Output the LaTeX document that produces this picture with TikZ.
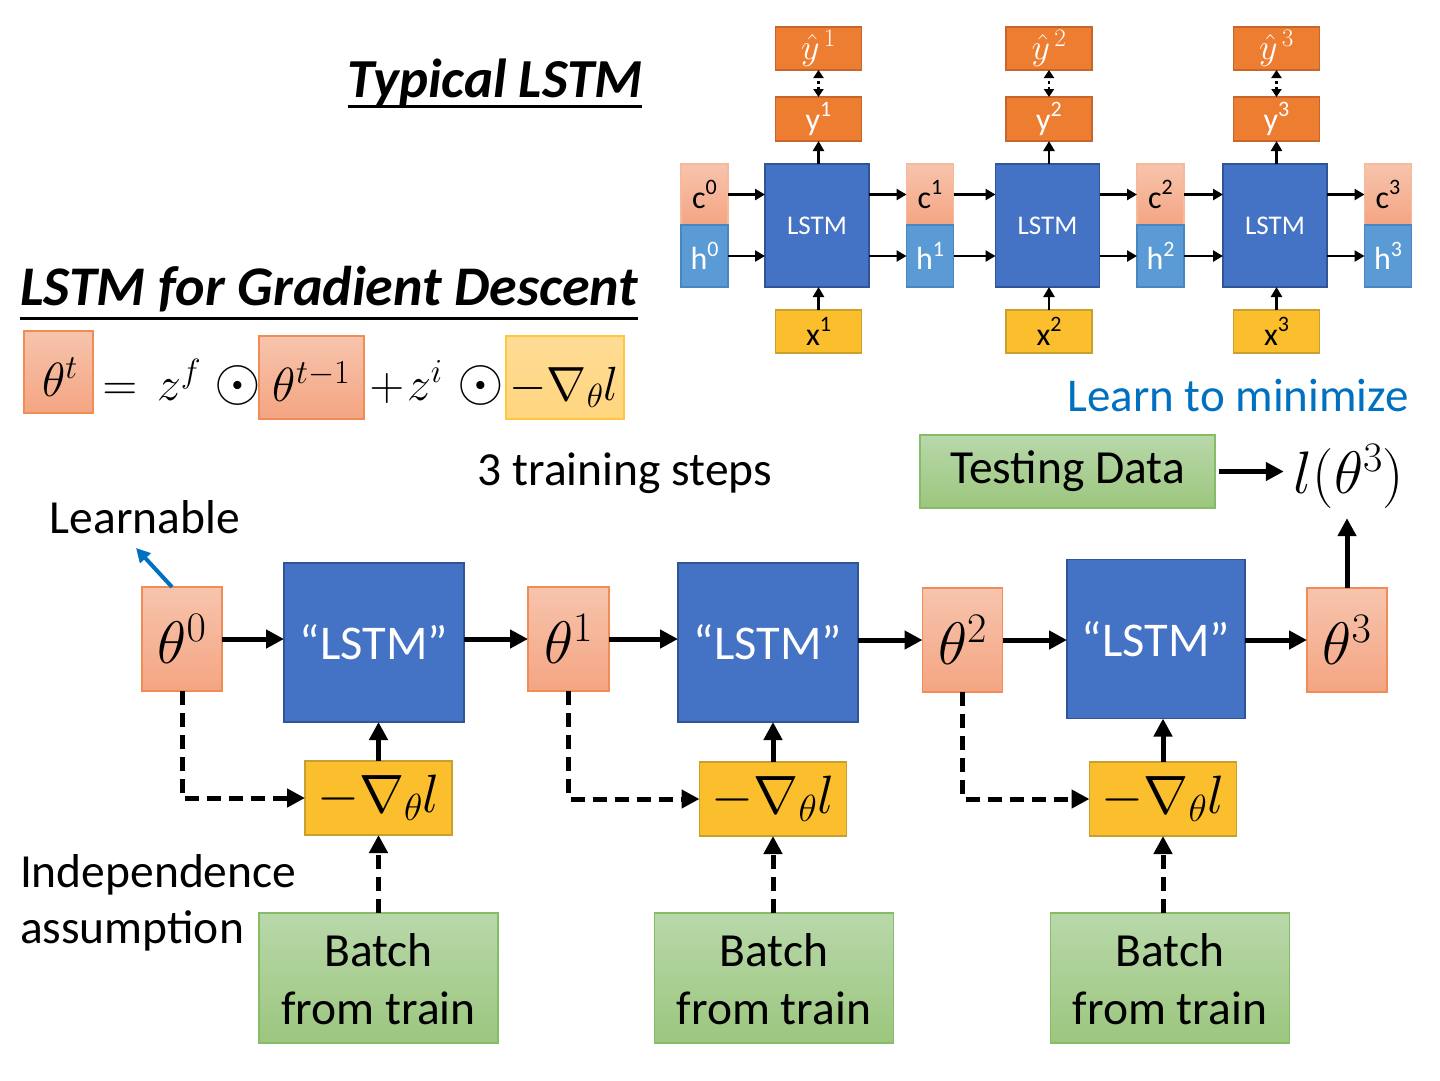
\RequirePackage{fix-cm}
\documentclass[tikz,border=0pt]{standalone}
\usepackage[no-math]{fontspec}
\setmainfont{Carlito}
\usetikzlibrary{arrows.meta}
\definecolor{salTop}{HTML}{F7C4AD}
\definecolor{salBot}{HTML}{F4A582}
\definecolor{salEdge}{HTML}{F08C55}
\definecolor{salEdgeL}{HTML}{F6B99A}
\definecolor{hBlue}{HTML}{5B9BD5}
\definecolor{hEdge}{HTML}{4A86BE}
\definecolor{lBlue}{HTML}{4472C4}
\definecolor{lEdge}{HTML}{2F5597}
\definecolor{oFill}{HTML}{ED7D31}
\definecolor{oEdge}{HTML}{C8652A}
\definecolor{gFill}{HTML}{FBBF2D}
\definecolor{gEdge}{HTML}{C9A030}
\definecolor{grTop}{HTML}{B8D8AA}
\definecolor{grBot}{HTML}{9CC67E}
\definecolor{grEdge}{HTML}{86BC68}
\definecolor{pyTop}{HTML}{FFDC96}
\definecolor{pyBot}{HTML}{FFD57E}
\definecolor{pyEdge}{HTML}{FFC640}
\definecolor{linkBlue}{HTML}{0070C0}
\newcommand\FMain{\fontsize{47.5}{56}\selectfont}
\newcommand\FQuote{\fontsize{48.5}{56}\selectfont}
\newcommand\FTitle{\fontsize{55}{66}\selectfont\bfseries\itshape}
\newcommand\FTitleB{\fontsize{56}{66}\selectfont\bfseries\itshape}
\newcommand\FTop{\fontsize{32}{38}\selectfont}
\newcommand\FTopM{\fontsize{36}{40}\selectfont}
\newcommand\FLstm{\fontsize{27}{32}\selectfont}
\newcommand\FMath{\fontsize{60}{70}\selectfont}
\newcommand\FGrad{\fontsize{54}{64}\selectfont}
\newcommand\FForm{\fontsize{48}{56}\selectfont}
\newcommand\FOdot{\fontsize{60}{68}\selectfont}
\newcommand\SupT[1]{\raisebox{0.42em}{\fontsize{22}{24}\selectfont #1}}
\begin{document}
\begin{tikzpicture}[x=1pt,y=-1pt,
  bx/.style={inner sep=0pt, outer sep=0pt, line width=1.2pt},
  salbox/.style={bx, top color=salTop, bottom color=salBot, draw=salEdge},
  salboxL/.style={bx, top color=salTop, bottom color=salBot, draw=salEdgeL},
  hbox/.style={bx, fill=hBlue, draw=hEdge, text=white},
  lbox/.style={bx, fill=lBlue, draw=lEdge, text=white},
  obox/.style={bx, fill=oFill, draw=oEdge, text=white},
  gbox/.style={bx, fill=gFill, draw=gEdge},
  grbox/.style={bx, top color=grTop, bottom color=grBot, draw=grEdge},
  pybox/.style={bx, top color=pyTop, bottom color=pyBot, draw=pyEdge},
  txt/.style={inner sep=0pt, outer sep=0pt},
  tarrow/.style={line width=2.8pt, -{Triangle[length=10pt,width=11pt]}},
  tdot/.style={line width=2.8pt, dash pattern=on 3pt off 3pt, {Triangle[length=8pt,width=10pt]}-{Triangle[length=8pt,width=10pt]}},
  barrow/.style={line width=5pt, -{Triangle[length=18pt,width=18pt]}},
  bdash/.style={line width=5pt, dash pattern=on 14pt off 8pt, -{Triangle[length=18pt,width=18pt]}},
  blarrow/.style={line width=4pt, draw=linkBlue, -{Triangle[length=14pt,width=14pt]}}
]
\useasboundingbox (0,0) rectangle (1440,1080);

% ---------- titles ----------
\node[txt, anchor=base] (ttl1) at (495,97) {\FTitle Typical LSTM};
\draw[line width=3pt] ([yshift=-9pt]ttl1.base west) -- ([yshift=-9pt]ttl1.base east);
\node[txt, anchor=base west] (ttl2) at (20,305) {\FTitleB LSTM for Gradient Descent};
\draw[line width=3pt] ([yshift=-13pt]ttl2.base west) -- ([yshift=-13pt]ttl2.base east);

% ---------- typical LSTM (top right) ----------
\foreach \i/\cx in {0/704.5,1/930,2/1160.5,3/1388}{
  \node[salboxL, minimum width=47pt, minimum height=61pt] (c\i) at (\cx,194.5) {\FTop c\SupT{\i}};
  \node[hbox, minimum width=47pt, minimum height=62pt] (h\i) at (\cx,256) {\FTop h\SupT{\i}};
}
\foreach \i/\cx/\ox in {1/817/818.5,2/1047.5/1049,3/1275/1276.5}{
  \node[lbox, minimum width=104pt, minimum height=123pt] (L\i) at (\cx,225.5) {\FLstm LSTM};
  \node[obox, minimum width=86pt, minimum height=43pt] (yh\i) at (\ox,48.5) {\FTopM$\hat{y}^{\,\i}$};
  \node[obox, minimum width=86pt, minimum height=44pt] (y\i) at (\ox,119) {\FTop y\SupT{\i}};
  \node[gbox, minimum width=86pt, minimum height=43pt] (x\i) at (\ox,331.5) {\FTop x\SupT{\i}};
  \draw[tarrow] (L\i.north -| y\i.south) -- (y\i.south);
  \draw[tdot] (y\i.north) -- (yh\i.south);
  \draw[tarrow] (x\i.north) -- (x\i.north |- L\i.south);
}
\foreach \a/\b in {0/1,1/2,2/3}{
  \draw[tarrow] (c\a.east) -- (c\a.east -| L\b.west);
  \draw[tarrow] (h\a.east) -- (h\a.east -| L\b.west);
  \draw[tarrow] (c\b.west -| L\b.east) -- (c\b.west);
  \draw[tarrow] (h\b.west -| L\b.east) -- (h\b.west);
}

% ---------- formula ----------
\node[salbox, minimum width=69pt, minimum height=82pt] (fb1) at (58.5,372) {};
\node[salbox, minimum width=105pt, minimum height=83pt] (fb2) at (311.5,377.5) {};
\node[pybox, minimum width=118pt, minimum height=83pt] (fb3) at (565,377.5) {};
\node[txt, anchor=base] (f1) at (60,396) {\FForm$\theta^{t}$};
\node[txt, anchor=base] (f2) at (120,400) {\FForm$=$};
\node[txt, anchor=base west] (f3) at (157,400) {\FForm$z^{f}$};
\node[txt, anchor=base] (f4) at (238,400) {\FOdot$\odot$};
\node[txt, anchor=base] (f5) at (311.5,401) {\FForm$\theta^{t-1}$};
\node[txt, anchor=base] (f6) at (387,400) {\FForm$+$};
\node[txt, anchor=base west] (f7) at (407,400) {\FForm$z^{i}$};
\node[txt, anchor=base] (f8) at (481,400) {\FOdot$\odot$};
\node[txt, anchor=base] (f9) at (564,400) {\FForm$-\nabla_{\theta} l$};

% ---------- texts ----------
\node[txt, anchor=base, text=linkBlue] (lmin) at (1238,411) {\fontsize{47}{56}\selectfont Learn to minimize};
\node[txt, anchor=base] (steps) at (625,485) {\FMain 3 training steps};
\node[txt, anchor=base] (learn) at (145,533) {\FMain Learnable};
\node[txt, anchor=base west] (ind1) at (20,887) {\FMain Independence};
\node[txt, anchor=base west] (ind2) at (20,943) {\FMain assumption};

% ---------- bottom chain ----------
\node[salbox, minimum width=80pt, minimum height=104pt] (th0) at (182,639) {\FMath$\theta^{0}$};
\node[salbox, minimum width=81pt, minimum height=104pt] (th1) at (568.5,639) {\FMath$\theta^{1}$};
\node[salbox, minimum width=80pt, minimum height=104pt] (th2) at (962.5,640) {\FMath$\theta^{2}$};
\node[salbox, minimum width=80pt, minimum height=104pt] (th3) at (1347,640) {\FMath$\theta^{3}$};

\node[lbox, minimum width=180pt, minimum height=159pt] (B1) at (374,642.5) {\FQuote “LSTM”};
\node[lbox, minimum width=180pt, minimum height=159pt] (B2) at (768,642.5) {\FQuote “LSTM”};
\node[lbox, minimum width=178pt, minimum height=159pt] (B3) at (1156,639) {\FQuote “LSTM”};

\node[gbox, minimum width=147pt, minimum height=74pt] (g1) at (378.5,798) {\FGrad$-\nabla_{\theta} l$};
\node[gbox, minimum width=147pt, minimum height=74pt] (g2) at (773,799) {\FGrad$-\nabla_{\theta} l$};
\node[gbox, minimum width=147pt, minimum height=74pt] (g3) at (1163,799) {\FGrad$-\nabla_{\theta} l$};

\foreach \i/\cx in {1/378.5,2/774,3/1170}{
  \node[grbox, minimum width=239pt, minimum height=130pt] (b\i) at (\cx,978) {};
  \node[txt, anchor=base] (bt\i) at ([yshift=12pt]b\i.center) {\FMain Batch};
  \node[txt, anchor=base] (bf\i) at ([yshift=-46pt]b\i.center) {\FMain from train};
}

\node[grbox, minimum width=295pt, minimum height=73pt] (test) at (1067.5,471.5) {\FMain Testing Data};
\node[inner sep=10pt, anchor=base] (lt) at (1349,493) {\FMath$l(\theta^{3})$};

% arrows bottom
\draw[barrow] (th0.east) -- (th0.east -| B1.west);
\draw[barrow] (th1.east) -- (th1.east -| B2.west);
\draw[barrow] (th2.east) -- (th2.east -| B3.west);
\draw[barrow] (th1.west -| B1.east) -- (th1.west);
\draw[barrow] (th2.west -| B2.east) -- (th2.west);
\draw[barrow] (th3.west -| B3.east) -- (th3.west);
\foreach \i in {1,2,3}{
  \draw[barrow] (g\i.north) -- (g\i.north |- B\i.south);
  \draw[bdash] (b\i.north -| g\i.south) -- (g\i.south);
}
\draw[bdash] (th0.south) |- (g1.west);
\draw[bdash] (th1.south) |- (g2.west);
\draw[bdash] (th2.south) |- (g3.west);
\draw[barrow, shorten <=4pt] (test.east) -- (test.east -| lt.west);
\draw[barrow] (th3.north) -- (th3.north |- lt.south);

\coordinate (lrn) at (136,548);
\draw[blarrow] ([xshift=-10pt]th0.north) -- (lrn);
\end{tikzpicture}
\end{document}
